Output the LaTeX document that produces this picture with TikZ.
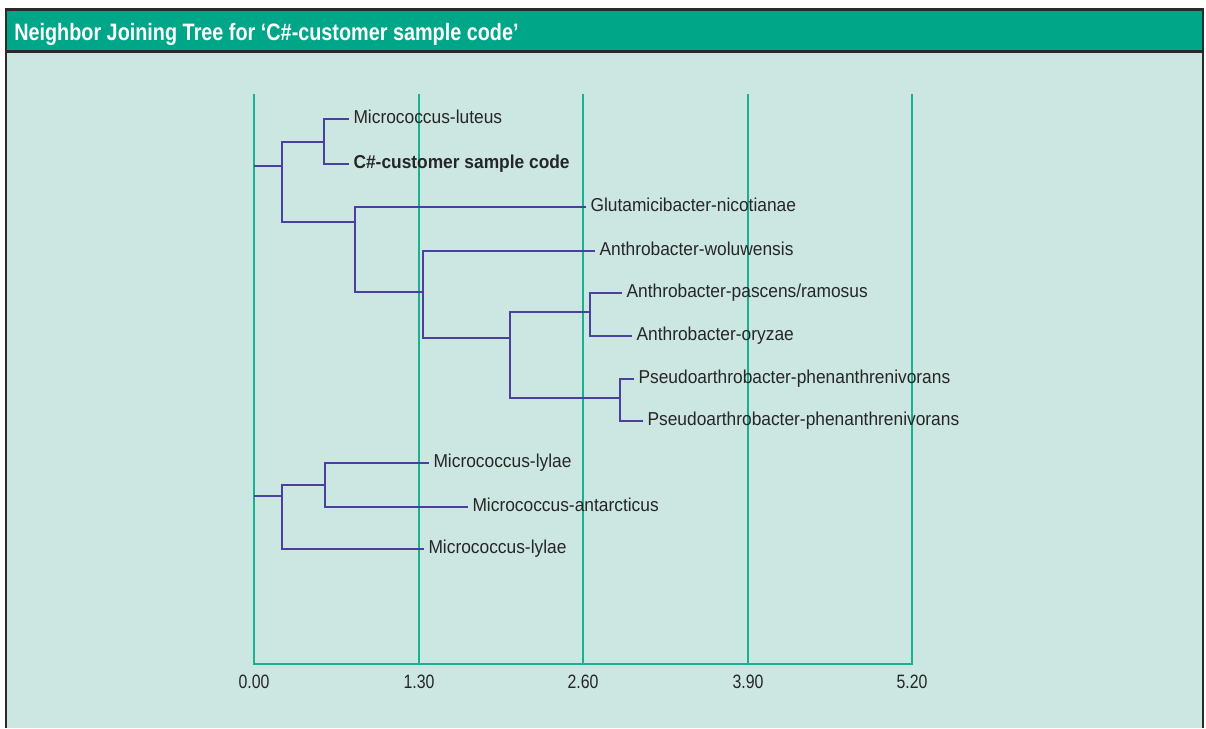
\documentclass[tikz,border=0pt]{standalone}
\usepackage{fontspec}
\setmainfont{Liberation Sans}[FakeStretch=0.93]
\newfontfamily\axisfont{Liberation Sans}[FakeStretch=0.82]
\newfontfamily\titlefont{Liberation Sans}[FakeStretch=0.835]
\definecolor{hdrgreen}{HTML}{00A688}
\definecolor{bodybg}{HTML}{CCE7E1}
\definecolor{gridc}{HTML}{1AB092}
\definecolor{branchc}{HTML}{4B3FA0}
\definecolor{framec}{HTML}{2A2A2A}
\definecolor{txtc}{HTML}{262626}
\tikzset{
  branch/.style={draw=branchc, line width=1.5pt},
  gridline/.style={draw=gridc, line width=1.5pt},
  leaf/.style={anchor=west, inner xsep=3.2pt, inner ysep=0pt, text height=7.2pt, text depth=0pt, font=\fontsize{14pt}{14pt}\selectfont, text=txtc},
  axislabel/.style={font=\axisfont\fontsize{14.5pt}{14.5pt}\selectfont, text=txtc, inner sep=0pt, text height=7.4pt, text depth=0pt},
}
\begin{document}
\begin{tikzpicture}[x=0.75pt,y=-0.75pt]
\useasboundingbox (0,0) rectangle (1206,728);
% panel
\fill[bodybg] (6,10) rectangle (1203,728);
\fill[hdrgreen] (6,10) rectangle (1203,51.5);
\draw[framec, line width=1.9pt] (6,728) -- (6,9.5) -- (1203,9.5) -- (1203,728);
\draw[framec, line width=1.9pt] (6,51.5) -- (1203,51.5);
\node[anchor=base west, inner sep=0pt, text=white, font=\titlefont\bfseries\fontsize{17.8pt}{17.8pt}\selectfont] (title) at (14,40) {Neighbor Joining Tree for ‘C\#-customer sample code’};
% grid
\foreach \gx/\lab [count=\k from 0] in {254/0.00,419/1.30,583/2.60,748/3.90,912/5.20}{
  \coordinate (gt\k) at (\gx,94);
  \coordinate (gb\k) at (\gx,664);
  \draw[gridline] (gt\k) -- (gb\k);
  \node[axislabel] (ax\k) at (\gx,683.5) {\lab};
}
\draw[gridline, line cap=rect] (gb0) -- (gb4);
% group 1 internal nodes
\coordinate (r1) at (254,166);
\coordinate (a1) at (282,166);
\coordinate (b1) at (324,142);
\coordinate (c1) at (355,222);
\coordinate (d1) at (423,292);
\coordinate (e1) at (510,338);
\coordinate (f1) at (590,312);
\coordinate (g1) at (620,398);
% leaves
\node[leaf] (luteus) at (349,119) {Micrococcus-luteus};
\node[leaf] (csharp) at (349,164) {\bfseries C\#-customer sample code};
\node[leaf] (glut) at (586,207) {Glutamicibacter-nicotianae};
\node[leaf] (wolu) at (595,251) {Anthrobacter-woluwensis};
\node[leaf] (pasc) at (622,293) {Anthrobacter-pascens/ramosus};
\node[leaf] (oryz) at (632,336) {Anthrobacter-oryzae};
\node[leaf] (pseu1) at (634,379) {Pseudoarthrobacter-phenanthrenivorans};
\node[leaf] (pseu2) at (643,421) {Pseudoarthrobacter-phenanthrenivorans};
\draw[branch] (r1) -- (a1);
\draw[branch] (a1) |- (b1);
\draw[branch] (a1) |- (c1);
\draw[branch] (b1) |- (luteus.west);
\draw[branch] (b1) |- (csharp.west);
\draw[branch] (c1) |- (glut.west);
\draw[branch] (c1) |- (d1);
\draw[branch] (d1) |- (wolu.west);
\draw[branch] (d1) |- (e1);
\draw[branch] (e1) |- (f1);
\draw[branch] (e1) |- (g1);
\draw[branch] (f1) |- (pasc.west);
\draw[branch] (f1) |- (oryz.west);
\draw[branch] (g1) |- (pseu1.west);
\draw[branch] (g1) |- (pseu2.west);
% group 2
\coordinate (r2) at (254,496);
\coordinate (a2) at (282,496);
\coordinate (h2) at (325,485);
\node[leaf] (lylae1) at (429,463) {Micrococcus-lylae};
\node[leaf] (antarc) at (468,507) {Micrococcus-antarcticus};
\node[leaf] (lylae2) at (424,549) {Micrococcus-lylae};
\draw[branch] (r2) -- (a2);
\draw[branch] (a2) |- (h2);
\draw[branch] (a2) |- (lylae2.west);
\draw[branch] (h2) |- (lylae1.west);
\draw[branch] (h2) |- (antarc.west);
\end{tikzpicture}
\end{document}
